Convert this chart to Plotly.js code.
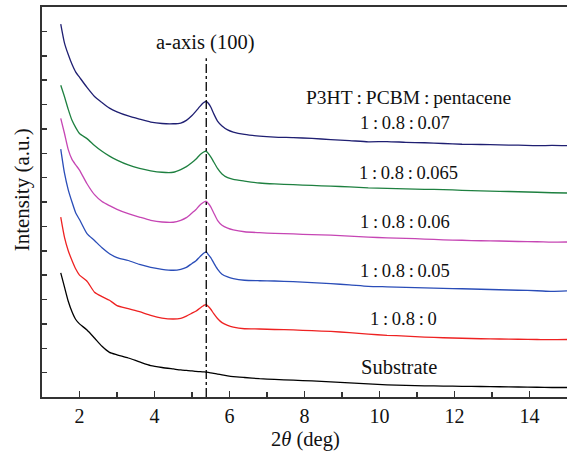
<!DOCTYPE html>
<html>
<head>
<meta charset="utf-8">
<script src="https://cdn.plot.ly/plotly-3.0.1.min.js"></script>
<style>html,body{margin:0;padding:0;background:#fff;overflow:hidden}</style>
</head>
<body>
<div id="chart" style="width:567px;height:460px"></div>
<script>
const twoTheta = [1.5,1.6,1.7,1.8,1.9,2.0,2.2,2.4,2.6,2.8,3.0,3.3,3.6,3.9,4.2,4.5,4.7,4.85,5.0,5.1,5.2,5.28,5.33,5.38,5.43,5.5,5.58,5.68,5.8,5.95,6.1,6.4,6.8,7.2,7.7,8.2,8.7,9.2,9.7,10.2,10.7,11.2,11.7,12.2,12.7,13.2,13.7,14.2,14.6,15.0];

const s007  = [15.30,14.52,14.05,13.65,13.33,13.12,12.70,12.33,12.08,11.85,11.70,11.53,11.40,11.28,11.22,11.21,11.24,11.35,11.55,11.72,11.90,12.04,12.10,12.13,12.06,11.90,11.62,11.32,11.12,10.96,10.87,10.77,10.70,10.66,10.64,10.61,10.56,10.52,10.47,10.48,10.45,10.43,10.40,10.37,10.36,10.34,10.33,10.31,10.32,10.31];
const s0065 = [12.79,12.32,11.80,11.35,11.05,10.81,10.60,10.32,10.08,9.88,9.72,9.52,9.38,9.28,9.22,9.22,9.33,9.45,9.62,9.75,9.92,10.02,10.07,10.08,10.00,9.85,9.64,9.38,9.15,9.00,8.93,8.86,8.78,8.74,8.71,8.68,8.65,8.62,8.58,8.56,8.54,8.52,8.51,8.48,8.46,8.44,8.42,8.40,8.38,8.37];
const s006  = [11.43,10.81,10.15,9.75,9.52,9.31,8.75,8.30,8.02,7.85,7.70,7.52,7.38,7.25,7.18,7.17,7.25,7.36,7.55,7.68,7.86,7.96,8.01,8.03,7.95,7.80,7.55,7.25,7.05,6.93,6.86,6.78,6.74,6.71,6.69,6.66,6.64,6.60,6.56,6.53,6.51,6.48,6.45,6.43,6.41,6.40,6.38,6.37,6.35,6.36];
const s005  = [10.17,9.18,8.50,8.00,7.55,7.28,6.70,6.42,6.12,5.88,5.72,5.60,5.44,5.32,5.24,5.20,5.24,5.32,5.48,5.58,5.74,5.86,5.92,5.95,5.85,5.72,5.50,5.25,5.04,4.93,4.86,4.79,4.77,4.76,4.73,4.69,4.65,4.60,4.54,4.52,4.50,4.48,4.46,4.44,4.42,4.40,4.38,4.36,4.33,4.35];
const s000  = [7.38,6.55,6.00,5.60,5.25,5.00,4.75,4.30,4.12,3.97,3.75,3.63,3.50,3.35,3.24,3.20,3.23,3.32,3.44,3.52,3.63,3.72,3.77,3.79,3.72,3.60,3.42,3.22,3.05,2.94,2.87,2.80,2.79,2.77,2.75,2.72,2.69,2.64,2.58,2.53,2.50,2.46,2.43,2.41,2.39,2.38,2.37,2.36,2.35,2.36];
const sSub  = [5.09,4.51,3.93,3.50,3.18,3.00,2.75,2.42,2.08,1.83,1.73,1.60,1.44,1.29,1.21,1.15,1.11,1.09,1.07,1.05,1.04,1.03,1.03,1.02,1.01,0.99,0.97,0.94,0.91,0.87,0.84,0.80,0.75,0.72,0.69,0.66,0.62,0.58,0.54,0.50,0.48,0.46,0.45,0.44,0.43,0.42,0.41,0.40,0.39,0.39];

const seriesNames = ["1\u2009:\u20090.8\u2009:\u20090.07","1\u2009:\u20090.8\u2009:\u20090.065","1\u2009:\u20090.8\u2009:\u20090.06","1\u2009:\u20090.8\u2009:\u20090.05","1\u2009:\u20090.8\u2009:\u20090","Substrate"];
const seriesData = [s007, s0065, s006, s005, s000, sSub];
const seriesColors = ["#1f1f72","#1e8040","#c646b4","#2a4db8","#ee2222","#000000"];
const labelX = [10.68,10.77,10.68,10.67,10.65,10.51];
const labelY = [11.23,9.18,7.17,5.17,3.19,1.23];
const labelSize = [18.5,18.5,18.5,18.5,18.5,20.5];
const peakPos = 5.38;
const xTicks = [2,4,6,8,10,12,14];

const FONT = "Liberation Serif, Times New Roman, serif";
const INK = "#111";
const traces = seriesData.map((y,i)=>({
  x: twoTheta, y: y, type: "scatter", mode: "lines",
  line: {color: seriesColors[i], width: 1.3, shape: "spline", smoothing: 0.6},
  name: seriesNames[i], showlegend: false, hoverinfo: "skip"
}));

const annotations = seriesNames.map((t,i)=>({
  x: labelX[i], y: labelY[i], xref: "x", yref: "y", text: t, showarrow: false,
  xanchor: "center", yanchor: "middle", font: {family: FONT, size: labelSize[i], color: INK}
}));
annotations.push({x: 5.35, y: 14.55, xref:"x", yref:"y", text: "a-axis (100)", showarrow:false, xanchor:"center", yanchor:"middle", font:{family:FONT,size:20.5,color:INK}});
annotations.push({x: 10.76, y: 12.3, xref:"x", yref:"y", text: "P3HT\u2009:\u2009PCBM\u2009:\u2009pentacene", showarrow:false, xanchor:"center", yanchor:"middle", font:{family:FONT,size:19.5,color:INK}});
annotations.push({x: 0.502, y: -0.11, xref:"paper", yref:"paper", text: "2<i>θ</i> (deg)", showarrow:false, xanchor:"center", yanchor:"middle", font:{family:FONT,size:20.5,color:INK}});
annotations.push({x: -0.038, y: 0.53, xref:"paper", yref:"paper", text: "Intensity (a.u.)", textangle: -90, showarrow:false, xanchor:"center", yanchor:"middle", font:{family:FONT,size:21,color:INK}});

const layout = {
  width: 567, height: 460,
  margin: {l: 42, r: 0, t: 7, b: 63},
  paper_bgcolor: "#fff", plot_bgcolor: "#fff",
  font: {family: FONT, size: 20, color: INK},
  xaxis: {
    range: [1, 15], tickvals: xTicks, ticks: "inside", ticklen: 6, tickwidth: 1.5, tickcolor: "#333",
    minor: {dtick: 1, ticks: "inside", ticklen: 5, tickwidth: 1.5, tickcolor: "#333"},
    showline: true, linecolor: "#333", linewidth: 2, mirror: true, showgrid: false, zeroline: false,
    tickfont: {family: FONT, size: 20, color: INK}
  },
  yaxis: {
    range: [0, 16], dtick: 1, tick0: 0, ticks: "inside", ticklen: 5, tickwidth: 1.5, tickcolor: "#333",
    showticklabels: false, showline: true, linecolor: "#333", linewidth: 2, mirror: false,
    showgrid: false, zeroline: false
  },
  shapes: [{type: "line", xref: "x", yref: "y", x0: peakPos, x1: peakPos, y0: 0, y1: 13.9,
    line: {color: "#000", width: 1.3, dash: "dashdot"}}],
  annotations: annotations
};
Plotly.newPlot("chart", traces, layout, {staticPlot: true, displayModeBar: false});
</script>
</body>
</html>
